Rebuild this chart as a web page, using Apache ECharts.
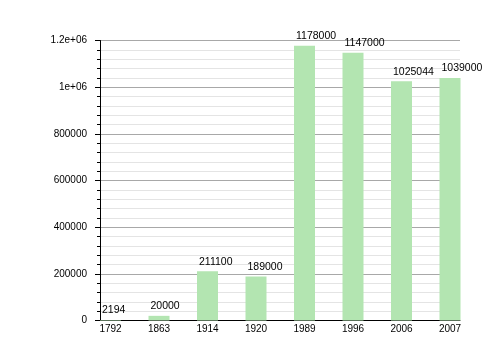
<!DOCTYPE html>
<html>
<head>
<meta charset="utf-8">
<script src="https://cdn.jsdelivr.net/npm/echarts@6/dist/echarts.min.js"></script>
<style>html,body{margin:0;padding:0;background:#fff}#c{width:500px;height:360px}</style>
</head>
<body>
<div id="c"></div>
<script>
var years = ['1792', '1863', '1914', '1920', '1989', '1996', '2006', '2007'];
var population = [2194, 20000, 211100, 189000, 1178000, 1147000, 1025044, 1039000];
var yTicks = [0, 200000, 400000, 600000, 800000, 1000000, 1200000];
var yTickLabels = ['0', '200000', '400000', '600000', '800000', '1e+06', '1.2e+06'];

var font = 'Liberation Sans';
var chart = echarts.init(document.getElementById('c'), null, {renderer: 'canvas'});
chart.setOption({
  animation: false,
  backgroundColor: '#ffffff',
  grid: {left: 100, right: 40, top: 40.5, bottom: 39.5},
  xAxis: {
    type: 'value',
    min: -0.2165,
    max: 7.206,
    axisLine: {show: true, onZero: false, lineStyle: {color: '#000', width: 1}},
    axisTick: {show: false},
    splitLine: {show: false},
    axisLabel: {
      customValues: years.map(function (y, i) { return i; }),
      formatter: function (v) { return years[Math.round(v)]; },
      color: '#000', fontFamily: font, fontSize: 10, margin: 4
    }
  },
  yAxis: {
    type: 'value',
    min: yTicks[0],
    max: yTicks[yTicks.length - 1],
    interval: yTicks[1] - yTicks[0],
    axisLine: {show: true, onZero: false, lineStyle: {color: '#000', width: 1}},
    axisTick: {show: true, length: 5, lineStyle: {color: '#000'}},
    minorTick: {show: true, splitNumber: 5, length: 3, lineStyle: {color: '#000'}},
    splitLine: {show: true, lineStyle: {color: '#a8a8a8', width: 1}},
    minorSplitLine: {show: true, lineStyle: {color: '#e4e4e4', width: 1}},
    axisLabel: {
      formatter: function (v) { var i = yTicks.indexOf(v); return i >= 0 ? yTickLabels[i] : String(v); },
      color: '#000', fontFamily: font, fontSize: 10, margin: 13
    }
  },
  series: [{
    type: 'bar',
    barWidth: 21,
    data: population.map(function (v, i) { return [i, v]; }),
    itemStyle: {color: '#b3e5b1'},
    label: {
      show: true,
      position: [2, -4],
      align: 'left',
      verticalAlign: 'bottom',
      formatter: function (p) { return String(p.value[1]); },
      color: '#000', fontFamily: font, fontSize: 10.5
    }
  }]
});
</script>
</body>
</html>
